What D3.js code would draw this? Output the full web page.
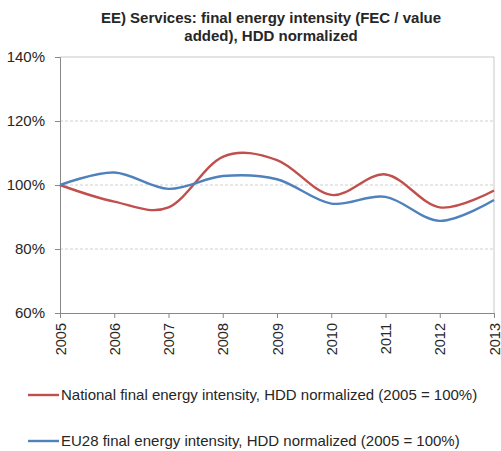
<!DOCTYPE html>
<html>
<head>
<meta charset="utf-8">
<script src="https://cdn.jsdelivr.net/npm/d3@7"></script>
<style>
body { margin: 0; background: #fff; }
text { font-family: "Liberation Sans", Arial, sans-serif; fill: #262626; }
</style>
</head>
<body>
<div id="canvas"></div>
<script>
var w = 501;
var h = 451;

var years = ["2005", "2006", "2007", "2008", "2009", "2010", "2011", "2012", "2013"];
var national = [100, 94.8, 93.0, 108.8, 107.8, 96.9, 103.3, 93.0, 98.3];
var eu28 = [100, 103.9, 98.8, 102.8, 101.8, 94.2, 96.3, 88.8, 95.3];
var yTicks = [0.6, 0.8, 1.0, 1.2, 1.4];
var seriesNames = [
    "National final energy intensity, HDD normalized (2005 = 100%)",
    "EU28 final energy intensity, HDD normalized (2005 = 100%)"
];
var seriesColors = ["#C0504D", "#4F81BD"];

// plot area (note: "top" is reserved on window)
var pL = 60, pR = 494, pT = 57, pB = 313;
var fontFam = '"Liberation Sans", Arial, sans-serif';

var svg = d3.select("#canvas").append("svg")
    .attr("width", w)
    .attr("height", h);

var x = d3.scalePoint()
    .domain(years)
    .range([pL, pR]);

var y = d3.scaleLinear()
    .domain([0.6, 1.4])
    .range([pB, pT]);

// title
svg.append("text")
    .attr("x", 271).attr("y", 23)
    .attr("text-anchor", "middle")
    .style("font-size", "15px").style("font-weight", "bold")
    .text("EE) Services: final energy intensity (FEC / value");
svg.append("text")
    .attr("x", 271).attr("y", 41)
    .attr("text-anchor", "middle")
    .style("font-size", "15px").style("font-weight", "bold")
    .text("added), HDD normalized");

// grid lines
svg.selectAll(".grid")
    .data(yTicks.filter(d => d > 0.6 && d < 1.4))
    .enter().append("line")
    .attr("x1", pL).attr("x2", pR)
    .attr("y1", d => y(d)).attr("y2", d => y(d))
    .attr("stroke", "#d0d0d0")
    .attr("stroke-dasharray", "3,2");

// plot border (top, right)
svg.append("path")
    .attr("d", `M${pL},${pT}H${pR}V${pB}`)
    .attr("fill", "none")
    .attr("stroke", "#c8c8c8");

// y axis
var yAxis = svg.append("g")
    .attr("transform", `translate(${pL},0)`)
    .call(d3.axisLeft(y).tickValues(yTicks).tickFormat(d3.format(".0%")).tickSize(5).tickPadding(10));
yAxis.selectAll("text").style("font-size", "15px").style("font-family", fontFam).attr("fill", "#262626");

// x axis
var xAxis = svg.append("g")
    .attr("transform", `translate(0,${pB})`)
    .call(d3.axisBottom(x).tickSize(5).tickPadding(0));
xAxis.selectAll("text")
    .style("font-size", "14.5px").style("font-family", fontFam).attr("fill", "#262626")
    .attr("transform", "rotate(-90)")
    .attr("text-anchor", "end")
    .attr("x", -10).attr("y", 0).attr("dy", "0.35em");

svg.selectAll(".domain, .tick line").attr("stroke", "#888");

// lines
var line = d3.line()
    .x((d, i) => x(years[i]))
    .y(d => y(d / 100))
    .curve(d3.curveCatmullRom.alpha(0));

[national, eu28].forEach(function(s, i) {
    svg.append("path")
        .attr("d", line(s))
        .attr("fill", "none")
        .attr("stroke", seriesColors[i])
        .attr("stroke-width", 2.4);
});

// legend
seriesNames.forEach(function(name, i) {
    var ly = 395 + i * 46;
    svg.append("line")
        .attr("x1", 28).attr("x2", 59)
        .attr("y1", ly).attr("y2", ly)
        .attr("stroke", seriesColors[i])
        .attr("stroke-width", 2.4);
    svg.append("text")
        .attr("x", 61).attr("y", ly)
        .attr("dy", "0.35em")
        .style("font-size", "15px")
        .text(name);
});
</script>
</body>
</html>
